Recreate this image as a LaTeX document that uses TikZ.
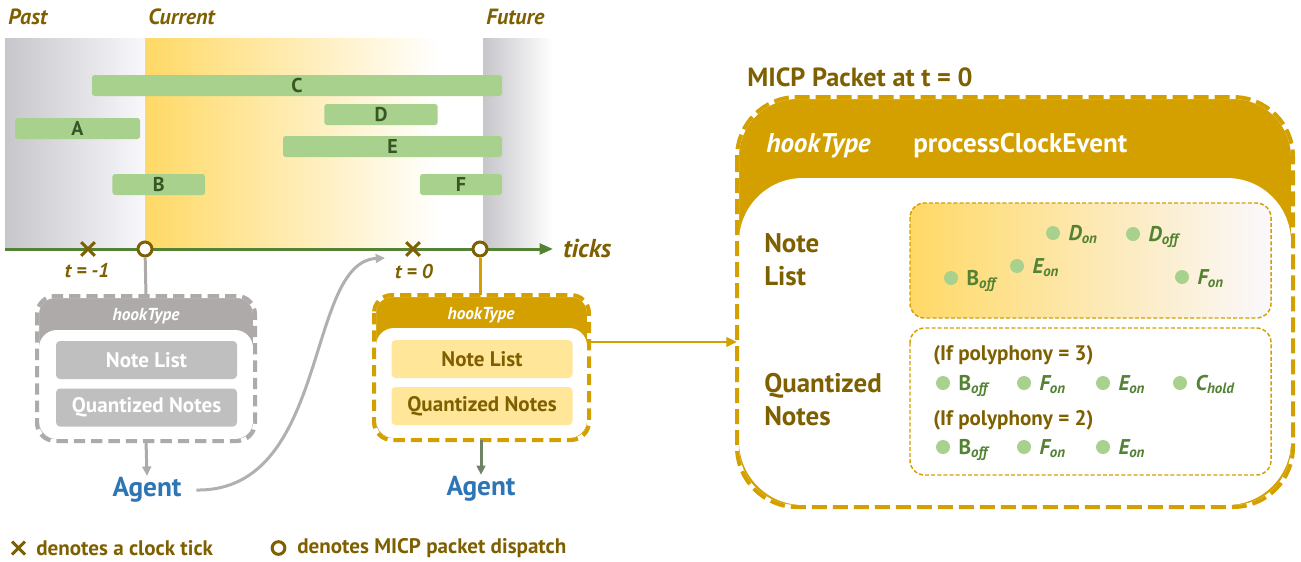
\documentclass[tikz,border=0pt]{standalone}
\usepackage{fontspec}
\setmainfont{PT Sans}
\usetikzlibrary{arrows.meta,shapes.misc,calc}
\definecolor{dgold}{HTML}{7F6000}
\definecolor{gold}{HTML}{D4A000}
\definecolor{ggray}{HTML}{AEAAAA}
\definecolor{gitem}{HTML}{BFBFBF}
\definecolor{yitem}{HTML}{FFE699}
\definecolor{barg}{HTML}{A9D18E}
\definecolor{bartxt}{HTML}{375623}
\definecolor{dottxt}{HTML}{548235}
\definecolor{axisg}{HTML}{548235}
\definecolor{agentb}{HTML}{2E75B6}
\definecolor{garrow}{HTML}{B0B0B0}
\definecolor{yel}{HTML}{FFD966}
\definecolor{peach}{HTML}{F9ECDF}
\definecolor{pastg}{HTML}{C6C6CB}
\definecolor{pastm}{HTML}{E9E9EF}
\definecolor{pastw}{HTML}{F7F7FC}
\definecolor{lav}{HTML}{FAF8FD}
\definecolor{greenarrow}{HTML}{6E8464}

% #1 x1, #2 y1, #3 x2, #4 y2, #5 header bottom, #6 colour, #7 outer radius, #8 inner radius, #9 dash pattern
\newcommand{\mypacket}[9]{%
  \fill[#6, rounded corners=#7] (#1,#2) rectangle (#3,#4);
  \fill[white, rounded corners=#8] (#1+2,#5) rectangle (#3-2,#4-2);
  \draw[white, line width=3pt, rounded corners=#7] (#1,#2) rectangle (#3,#4);
  \draw[#6, line width=3pt, dash pattern=#9, rounded corners=#7] (#1,#2) rectangle (#3,#4);
}

\tikzset{
  every node/.style={inner sep=0pt, font=\bfseries},
  toplbl/.style={text=dgold, font=\bfseries\itshape\fontsize{16.5}{19}\selectfont, anchor=west},
  bar/.style={fill=barg, text=bartxt, rounded corners=2pt, minimum height=15.75pt,
              font=\bfseries\fontsize{15}{18}\selectfont},
  axisline/.style={axisg, line width=2.25pt, -{Triangle[length=10pt,width=8pt]}},
  dispatch/.style={circle, draw=dgold, line width=2.25pt, fill=white, minimum size=10.5pt},
  crossmark/.style={cross out, draw=dgold, line width=2.25pt, minimum size=8pt},
  tlbl/.style={text=dgold, font=\bfseries\itshape\fontsize{15}{18}\selectfont},
  hdr/.style={text=white, font=\bfseries\itshape\fontsize{13}{15}\selectfont},
  item/.style={rounded corners=3pt, minimum width=135.75pt, minimum height=28.5pt,
               font=\bfseries\fontsize{15.8}{18}\selectfont},
  agent/.style={text=agentb, font=\bfseries\fontsize{20.5}{24}\selectfont, inner sep=1pt},
  stem/.style={line width=2.25pt},
  arr/.style={line width=2.25pt, -{Triangle[length=7pt,width=6.5pt]}},
  biglbl/.style={text=dgold, font=\bfseries\fontsize{20.2}{24.75}\selectfont, align=left, anchor=west},
  dot/.style={circle, fill=barg, minimum size=10.5pt},
  dlab/.style={text=dottxt, font=\bfseries\fontsize{16}{19}\selectfont, anchor=base west},
  poly/.style={text=dgold, font=\bfseries\fontsize{15.8}{18}\selectfont, anchor=west},
  legend/.style={text=dgold, font=\bfseries\fontsize{15.8}{18}\selectfont, anchor=west},
}
\newcommand{\nlab}[2]{#1\textsubscript{\itshape #2}}

\begin{document}
\begin{tikzpicture}[x=0.75pt,y=-0.75pt]
\useasboundingbox (0,0) rectangle (1301,561);
\fill[white] (0,0) rectangle (1301,561);

% ---------- timeline panel ----------
\shade[left color=pastg, right color=pastw] (5,38) rectangle (145,249);
\shade[left color=yel, middle color=peach, right color=white] (145,38) rectangle (440,249);
\shade[left color=pastg, middle color=pastm, right color=white] (483,38) rectangle (553,249);

\node[toplbl] (past) at (8,17) {Past};
\node[toplbl] (current) at (148,17) {Current};
\node[toplbl] (future) at (486,17) {Future};

\node[bar, minimum width=307.5pt] (barC) at (297,85.5) {C};
\node[bar, minimum width=85pt] (barD) at (381,114.5) {D};
\node[bar, minimum width=93.75pt] (barA) at (77.5,128.5) {A};
\node[bar, minimum width=164.25pt] (barE) at (392.5,146.5) {E};
\node[bar, minimum width=69.4pt] (barB) at (158.75,184.5) {B};
\node[bar, minimum width=61.5pt] (barF) at (461,184.5) {F};

\coordinate (axs) at (5,249);
\coordinate (axe) at (553,249);
\draw[axisline] (axs) -- (axe);
\node[text=dgold, font=\bfseries\itshape\fontsize{19.4}{22}\selectfont, anchor=west] (ticks) at (563,248) {ticks};

\node[crossmark] (x1) at (88,249) {};
\node[crossmark] (x2) at (413,249) {};
\node[tlbl] (tm1) at (87,271) {t = -1};
\node[tlbl] (t0) at (414,271) {t = 0};

% ---------- gray packet ----------
\coordinate (gtop) at (146,296);
\coordinate (gbot) at (146,441);
\mypacket{37}{296}{255}{441}{330}{ggray}{13.5pt}{13.5pt}{on 8.5pt off 4.5pt}
\node[hdr] (ghdr) at (146,316) {hookType};
\node[item, fill=gitem, text=white] (gnl) at (146.5,360) {Note List};
\node[item, fill=gitem, text=white] (gqn) at (146.5,407.5) {Quantized Notes};
\node[agent] (agent1) at (147,490) {Agent};
\draw[arr, ggray] (gbot) -- (agent1.north);

% ---------- gold packet ----------
\coordinate (ytop) at (480,295);
\coordinate (ybot) at (481,440);
\coordinate (yright) at (589,342);
\mypacket{374}{295}{589}{440}{328}{gold}{13.5pt}{13.5pt}{on 8.5pt off 4.5pt}
\node[hdr] (yhdr) at (481,315) {hookType};
\node[item, fill=yitem, text=dgold] (ynl) at (482,359) {Note List};
\node[item, fill=yitem, text=dgold] (yqn) at (482,406) {Quantized Notes};
\node[agent] (agent2) at (481,489) {Agent};
\draw[arr, greenarrow] (ybot) -- (agent2.north);

% dispatch circles and stems
\node[dispatch] (c1) at (145,249) {};
\node[dispatch] (c2) at (480,249) {};
\draw[stem, ggray] (c1) -- (gtop);
\draw[stem, gold] (c2) -- (ytop);

% agent feedback curve
\coordinate (fb) at (385,258);
\draw[arr, garrow] ([xshift=10pt]agent1.east) .. controls (330,492) and (305,262) .. (fb);

% ---------- big packet ----------
\node[text=dgold, font=\bfseries\fontsize{19.7}{23}\selectfont, anchor=west] (title) at (747,77) {MICP Packet at t = 0};
\coordinate (bigleft) at (737,342);
\mypacket{737}{97}{1293}{507}{178}{gold}{45pt}{48pt}{on 11.25pt off 4.5pt}
\draw[line width=1.9pt, gold, -{Triangle[length=8pt,width=7pt]}] (yright) -- (bigleft);

\node[text=white, font=\bfseries\itshape\fontsize{20.3}{24}\selectfont, anchor=west] (bhook) at (766,146) {hookType};
\node[text=white, font=\bfseries\fontsize{20.3}{24}\selectfont, anchor=west] (bproc) at (913,146) {processClockEvent};
\node[biglbl] (bnl) at (764,259.5) {Note\\List};
\node[biglbl] (bqn) at (764,399.5) {Quantized\\Notes};

% note list box
\shade[left color=yel, middle color=peach, right color=lav, rounded corners=11pt] (910,203) rectangle (1271,318);
\draw[gold, line width=1.1pt, dash pattern=on 3pt off 1.6pt, rounded corners=11pt] (910,203) rectangle (1271,318);
% quantized box
\draw[gold, line width=1.1pt, dash pattern=on 3pt off 1.6pt, rounded corners=11pt] (910,328) rectangle (1271,475);

\node[dot] (dB) at (951,278) {};
\node[dlab] at ([xshift=6pt,yshift=-5.6pt]dB.east) {\nlab{B}{off}};
\node[dot] (dE) at (1017,266) {};
\node[dlab] at ([xshift=6pt,yshift=-5.6pt]dE.east) {\nlab{\itshape E}{on}};
\node[dot] (dDon) at (1053,233) {};
\node[dlab] at ([xshift=6pt,yshift=-5.6pt]dDon.east) {\nlab{\itshape D}{on}};
\node[dot] (dDoff) at (1133,234) {};
\node[dlab] at ([xshift=6pt,yshift=-5.6pt]dDoff.east) {\nlab{\itshape D}{off}};
\node[dot] (dF) at (1182,277) {};
\node[dlab] at ([xshift=6pt,yshift=-5.6pt]dF.east) {\nlab{\itshape F}{on}};

\node[poly] (p3) at (933,355) {(If polyphony = 3)};
\node[dot] (q1) at (943,383) {};
\node[dlab] at ([xshift=6pt,yshift=-5.6pt]q1.east) {\nlab{B}{off}};
\node[dot] (q2) at (1024,383) {};
\node[dlab] at ([xshift=6pt,yshift=-5.6pt]q2.east) {\nlab{\itshape F}{on}};
\node[dot] (q3) at (1103,383) {};
\node[dlab] at ([xshift=6pt,yshift=-5.6pt]q3.east) {\nlab{\itshape E}{on}};
\node[dot] (q4) at (1180,383) {};
\node[dlab] at ([xshift=6pt,yshift=-5.6pt]q4.east) {\nlab{\itshape C}{hold}};

\node[poly] (p2) at (933,420) {(If polyphony = 2)};
\node[dot] (r1) at (943,447) {};
\node[dlab] at ([xshift=6pt,yshift=-5.6pt]r1.east) {\nlab{B}{off}};
\node[dot] (r2) at (1024,447) {};
\node[dlab] at ([xshift=6pt,yshift=-5.6pt]r2.east) {\nlab{\itshape F}{on}};
\node[dot] (r3) at (1103,447) {};
\node[dlab] at ([xshift=6pt,yshift=-5.6pt]r3.east) {\nlab{\itshape E}{on}};

% ---------- legend ----------
\node[crossmark, minimum size=7.5pt] (lx) at (18.5,548) {};
\node[legend] (ltxt1) at (36,548) {denotes a clock tick};
\node[dispatch, minimum size=9.5pt] (lc) at (278.5,548) {};
\node[legend] (ltxt2) at (297,548) {denotes MICP packet dispatch};
\end{tikzpicture}
\end{document}
